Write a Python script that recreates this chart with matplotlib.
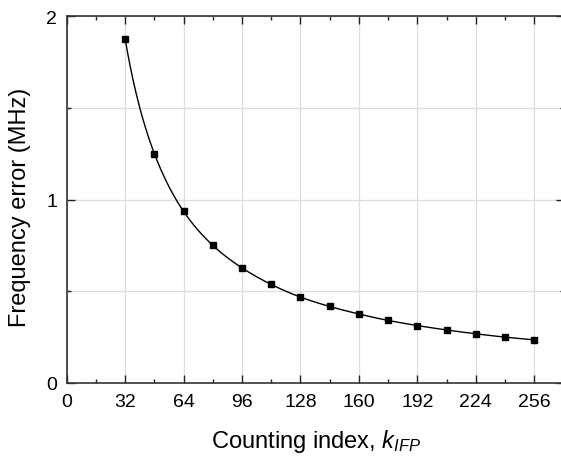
import numpy as np
import matplotlib
matplotlib.use("Agg")
import matplotlib.pyplot as plt
from matplotlib.ticker import MultipleLocator

# Data
k_index = [32, 48, 64, 80, 96, 112, 128, 144, 160, 176, 192, 208, 224, 240, 256]
freq_err = [1.875, 1.25, 0.935, 0.75, 0.627, 0.537, 0.468, 0.417, 0.376, 0.341,
            0.313, 0.289, 0.268, 0.25, 0.235]
x_ticks = [0, 32, 64, 96, 128, 160, 192, 224, 256]
y_ticks = [0, 1, 2]

plt.rcParams['font.family'] = ['Liberation Sans', 'DejaVu Sans']
plt.rcParams['mathtext.fontset'] = 'custom'
plt.rcParams['mathtext.rm'] = 'Liberation Sans'
plt.rcParams['mathtext.it'] = 'Liberation Sans:italic'

W, H = 561, 464
fig = plt.figure(figsize=(W / 100, H / 100), dpi=100)
x0, x1 = 66.7, 563.5
y_top, y_bot = 17, 384
ax = fig.add_axes([x0 / W, 1 - y_bot / H, (x1 - x0) / W, (y_bot - y_top) / H])

# smooth line through the points (Catmull-Rom in log-log space, rendering only)
lx = np.log(np.asarray(k_index, float))
ly = np.log(np.asarray(freq_err, float))
px, py = [], []
n = len(lx)
for i in range(n - 1):
    P = []
    for arr in (lx, ly):
        c0 = arr[i - 1] if i > 0 else 2 * arr[i] - arr[i + 1]
        c1 = arr[i]
        c2 = arr[i + 1]
        c3 = arr[i + 2] if i + 2 < n else 2 * arr[i + 1] - arr[i]
        P.append((c0, c1, c2, c3))
    t = np.linspace(0, 1, 30)
    for (c0, c1, c2, c3), out in zip(P, (px, py)):
        out.extend(np.exp(0.5 * (2 * c1 + (-c0 + c2) * t + (2 * c0 - 5 * c1 + 4 * c2 - c3) * t ** 2
                                 + (-c0 + 3 * c1 - 3 * c2 + c3) * t ** 3)))
ax.plot(px, py, color='black', lw=1.0, zorder=3)
ax.plot(k_index, freq_err, 's', color='black', ms=5, zorder=4)

ax.set_xlim(0, 272)
ax.set_ylim(0, 2)
ax.set_xticks(x_ticks)
ax.set_yticks(y_ticks)
ax.xaxis.set_minor_locator(MultipleLocator(16))
ax.yaxis.set_minor_locator(MultipleLocator(0.5))
ax.tick_params(which='both', direction='in', top=True, right=True, labelsize=14,
               color='#222222', width=1.0)
ax.tick_params(which='major', length=6)
ax.tick_params(which='minor', length=3)
ax.tick_params(axis='x', which='major', pad=7)
ax.tick_params(axis='y', which='major', pad=7)
ax.grid(True, which='major', axis='x', color='#dddddd', lw=0.9, zorder=0)
ax.grid(True, which='both', axis='y', color='#dddddd', lw=0.9, zorder=0)
ax.set_axisbelow(True)
for s in ax.spines.values():
    s.set_linewidth(1.2)
    s.set_color('#333333')

ax.set_xlabel('Counting index, $k_{IFP}$', fontsize=17)
ax.set_ylabel('Frequency error (MHz)', fontsize=17)
ax.xaxis.set_label_coords((316 - x0) / (x1 - x0), -(442 - y_bot) / (y_bot - y_top))
ax.yaxis.set_label_coords(-(x0 - 20) / (x1 - x0), (y_bot - 207) / (y_bot - y_top))
ax.xaxis.label.set_va('center')
ax.yaxis.label.set_va('center')

fig.savefig('out.png', dpi=100)
